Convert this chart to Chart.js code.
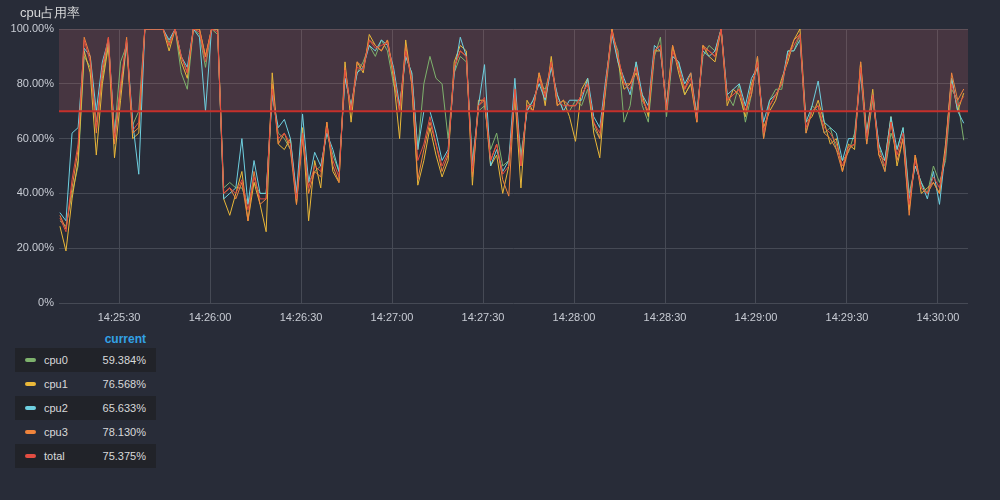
<!DOCTYPE html>
<html>
<head>
<meta charset="utf-8">
<script src="https://cdn.jsdelivr.net/npm/chart.js@4.4.1/dist/chart.umd.min.js"></script>
<style>
  html, body { margin: 0; padding: 0; background: #282c38; width: 1000px; height: 500px; overflow: hidden; font-family: "Liberation Sans", Arial, sans-serif; }
  #wrap { position: absolute; left: 0; top: 0; width: 1000px; height: 330px; }
  #title { position: absolute; left: 20px; top: 4px; font-size: 13px; color: #d8d9da; }
  #legend { position: absolute; left: 15px; top: 330px; width: 141px; font-size: 11px; color: #d8d9da; }
  #legend .hdr { height: 18px; line-height: 18px; text-align: right; padding-right: 10px; color: #33a2e5; font-weight: bold; font-size: 12px; }
  #legend .row { position: relative; height: 24px; line-height: 24px; }
  #legend .row.dark { background: #212329; }
  #legend .sw { position: absolute; left: 10px; top: 10px; width: 11px; height: 4px; border-radius: 2px; }
  #legend .nm { position: absolute; left: 29px; top: 0; }
  #legend .val { position: absolute; right: 10px; top: 0; }
</style>
</head>
<body>
<div id="wrap"><canvas id="c" width="1000" height="330"></canvas></div>
<div id="title">cpu占用率</div>
<div id="legend"></div>
<script>
// ---- data ----
const seriesNames = ["cpu0", "cpu1", "cpu2", "cpu3", "total"];
const seriesColors = ["#7EB26D", "#EAB839", "#6ED0E0", "#EF843C", "#E24D42"];
const currentValues = ["59.384%", "76.568%", "65.633%", "78.130%", "75.375%"];
const startSec = 10.5;   // seconds after 14:25:00 of first sample
const stepSec = 2;       // sample interval (s)
const tickSeconds = [30, 60, 90, 120, 150, 180, 210, 240, 270, 300];
const yTicks = [0, 20, 40, 60, 80, 100];
const threshold = 70;

const cpu0 = [30,28,40,50,90,86,66,82,95,62,
88,94,65,70,100,100,100,100,95,100,
84,78,100,98,86,100,98,42,44,42,
42,36,44,40,40,76,62,60,56,40,
60,44,48,50,62,54,48,82,72,84,
88,94,90,96,92,80,72,90,84,56,
80,90,82,80,60,84,90,88,52,70,
72,56,62,50,52,74,54,70,74,80,
78,86,76,70,70,74,72,78,64,60,
78,98,92,66,72,88,72,66,90,97,
68,90,88,76,80,70,90,94,92,100,
76,72,80,66,76,90,60,74,78,78,
92,92,98,62,72,70,62,64,56,52,
55,62,84,58,74,58,48,62,56,64,
40,50,44,40,50,44,52,78,74,59.4];

const cpu1 = [28,19,38,52,92,84,54,80,94,53,
74,95,60,62,100,100,100,100,92,100,
88,82,100,100,90,100,100,38,32,40,
48,30,44,36,26,84,58,56,60,36,
64,30,52,42,66,48,44,88,66,88,
84,98,94,92,96,82,60,96,80,43,
52,64,54,46,52,88,94,92,43,74,
74,50,54,40,50,76,42,74,70,84,
72,90,72,74,68,59,78,82,62,53,
80,100,88,78,80,84,76,68,92,92,
72,94,84,76,80,66,94,90,88,100,
72,78,76,68,80,86,64,70,74,82,
88,96,100,66,68,74,66,58,60,48,
58,56,88,62,78,54,52,68,50,60,
34,54,40,42,44,40,58,82,70,76.6];

const cpu2 = [33,30,62,64,93,90,70,88,96,62,
78,95,66,47,100,100,100,100,96,100,
90,86,100,97,70,100,100,38,40,42,
60,36,52,40,40,76,64,67,60,40,
69,44,55,50,62,56,48,82,72,84,
86,94,92,96,94,86,72,90,84,56,
70,70,62,52,56,84,97,90,50,72,
87,50,56,48,52,82,52,70,74,80,
74,86,76,70,74,74,74,82,68,64,
82,98,88,82,76,88,76,72,94,92,
72,90,88,80,84,68,92,90,92,100,
76,78,80,72,82,86,66,74,76,80,
92,92,96,66,72,81,66,64,62,52,
60,60,84,62,76,58,52,68,56,64,
38,50,44,38,48,36,56,82,70,65.6];

const cpu3 = [32,27,42,56,97,90,62,84,97,58,
78,97,62,64,100,100,100,100,94,100,
90,84,100,100,90,100,100,40,42,38,
44,30,48,36,38,80,58,62,56,36,
60,40,48,46,66,50,44,86,70,88,
86,96,94,92,96,84,70,94,80,45,
56,66,58,48,54,86,92,90,46,72,
74,52,58,45,39,78,50,72,70,84,
76,88,72,74,72,72,76,80,66,60,
80,100,90,80,80,86,74,70,92,94,
70,94,86,78,84,66,94,92,90,100,
74,76,78,70,76,90,60,72,76,80,
90,96,98,62,70,72,62,60,56,48,
56,58,88,58,76,54,48,66,52,60,
32,54,42,40,44,40,56,84,74,78.1];

const total = [31,26,45,58,96,88,64,86,97,60,
80,96,63,66,100,100,100,100,94,100,
90,84,100,99,88,100,99,40,42,40,
45,34,46,38,38,78,60,62,58,38,
62,42,50,48,64,52,46,85,70,86,
85,96,93,94,95,84,70,92,82,52,
58,68,58,50,55,86,92,90,48,72,
75,52,58,47,50,78,50,72,72,82,
75,88,74,72,72,72,76,80,66,62,
80,99,90,80,78,86,74,70,92,94,
70,92,86,78,82,67,93,92,90,100,
74,76,78,70,78,88,62,72,76,80,
90,94,98,64,70,72,64,62,58,50,
57,58,86,60,76,56,50,66,54,62,
36,52,42,40,46,42,55,80,72,75.4];

const allSeries = [cpu0, cpu1, cpu2, cpu3, total];

function fmtTime(s) {
  const base = 14 * 3600 + 25 * 60;
  const t = Math.round(base + s);
  const h = Math.floor(t / 3600), m = Math.floor((t % 3600) / 60), sec = t % 60;
  const p = n => String(n).padStart(2, "0");
  return p(h) + ":" + p(m) + ":" + p(sec);
}

const datasets = allSeries.map((arr, k) => ({
  label: seriesNames[k],
  data: arr.map((v, i) => ({ x: startSec + i * stepSec, y: v })),
  borderColor: seriesColors[k],
  backgroundColor: seriesColors[k],
  borderWidth: 1,
  pointRadius: 0,
  tension: 0,
  fill: false,
  order: 4 - k
}));

const thresholdPlugin = {
  id: "threshold",
  beforeDatasetsDraw(chart) {
    const { ctx, chartArea, scales } = chart;
    const yT = scales.y.getPixelForValue(threshold);
    const yTop = scales.y.getPixelForValue(100);
    ctx.save();
    ctx.fillStyle = "rgba(234, 112, 112, 0.16)";
    ctx.fillRect(chartArea.left, yTop, chartArea.right - chartArea.left, yT - yTop);
    ctx.restore();
  },
  afterDatasetsDraw(chart) {
    const { ctx, chartArea, scales } = chart;
    const yT = scales.y.getPixelForValue(threshold);
    ctx.save();
    ctx.strokeStyle = "#c4302b";
    ctx.lineWidth = 2;
    ctx.beginPath();
    ctx.moveTo(chartArea.left, yT);
    ctx.lineTo(chartArea.right, yT);
    ctx.stroke();
    ctx.restore();
  }
};

new Chart(document.getElementById("c"), {
  type: "line",
  data: { datasets },
  plugins: [thresholdPlugin],
  options: {
    responsive: false,
    animation: false,
    layout: { padding: { left: 0, right: 32, top: 29, bottom: 0 } },
    plugins: { legend: { display: false }, tooltip: { enabled: false } },
    scales: {
      x: {
        type: "linear",
        min: 10.2,
        max: 309.9,
        afterBuildTicks: s => { s.ticks = tickSeconds.map(v => ({ value: v })); },
        afterFit: s => { s.height = 27; },
        grid: { color: "#464a55", drawTicks: false, lineWidth: 1 },
        border: { display: false },
        ticks: {
          color: "#c8ccd4",
          font: { family: "'Liberation Sans', Arial, sans-serif", size: 11 },
          padding: 8,
          maxRotation: 0,
          callback: v => fmtTime(v)
        }
      },
      y: {
        min: 0,
        max: 100,
        afterBuildTicks: s => { s.ticks = yTicks.map(v => ({ value: v })); },
        afterFit: s => { s.width = 59; },
        grid: { color: "#464a55", drawTicks: false, lineWidth: 1 },
        border: { display: false },
        ticks: {
          color: "#c8ccd4",
          font: { family: "'Liberation Sans', Arial, sans-serif", size: 11 },
          padding: 5,
          callback: v => (v === 0 ? "0%" : v.toFixed(2) + "%")
        }
      }
    }
  }
});

// ---- legend ----
const lg = document.getElementById("legend");
let html = '<div class="hdr">current</div>';
seriesNames.forEach((n, k) => {
  html += '<div class="row' + (k % 2 === 0 ? ' dark' : '') + '">' +
    '<span class="sw" style="background:' + seriesColors[k] + '"></span>' +
    '<span class="nm">' + n + '</span>' +
    '<span class="val">' + currentValues[k] + '</span></div>';
});
lg.innerHTML = html;
</script>
</body>
</html>
